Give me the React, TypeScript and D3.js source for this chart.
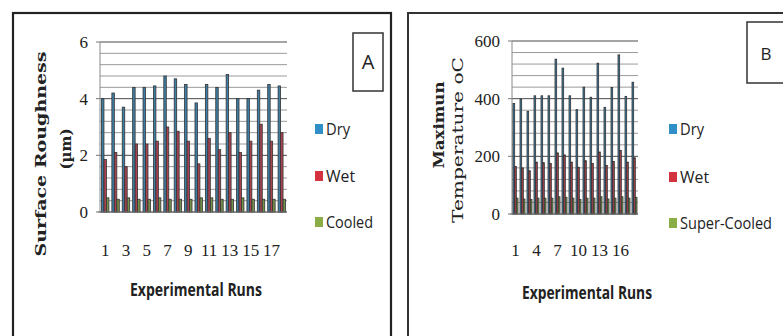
import React from "react";
import * as d3 from "d3";

// ---- data ----
const runs = [1, 2, 3, 4, 5, 6, 7, 8, 9, 10, 11, 12, 13, 14, 15, 16, 17, 18];

const roughDry = [4.0, 4.2, 3.7, 4.4, 4.4, 4.45, 4.8, 4.7, 4.5, 3.85, 4.5, 4.4, 4.85, 4.0, 4.0, 4.3, 4.5, 4.45];
const roughWet = [1.85, 2.1, 1.6, 2.4, 2.4, 2.5, 3.0, 2.85, 2.5, 1.7, 2.6, 2.2, 2.8, 2.1, 2.5, 3.1, 2.5, 2.8];
const roughCooled = [0.5, 0.45, 0.5, 0.45, 0.45, 0.5, 0.45, 0.45, 0.45, 0.5, 0.5, 0.45, 0.45, 0.5, 0.45, 0.45, 0.45, 0.45];
const roughTicks = [0, 2, 4, 6];
const roughXLabels = [1, 3, 5, 7, 9, 11, 13, 15, 17];

const tempDry = [383, 399, 356, 410, 410, 410, 537, 506, 410, 362, 440, 405, 523, 370, 439, 552, 408, 457];
const tempWet = [165, 160, 150, 180, 178, 175, 212, 205, 180, 162, 185, 175, 215, 168, 182, 220, 180, 195];
const tempSuper = [55, 52, 50, 55, 55, 55, 60, 58, 55, 50, 55, 55, 60, 52, 55, 60, 55, 58];
const tempTicks = [0, 200, 400, 600];
const tempXLabels = [1, 4, 7, 10, 13, 16];

const seriesColors = ["#2f8fc6", "#d2333f", "#8aae45"];
const barFills = ["#3f7ea4", "#a8434f", "#74924a"];

type PanelProps = {
  left: number; right: number; top: number; bottom: number;
  maxV: number; minorStep: number; ticks: number[]; xLabels: number[];
  series: number[][]; names: string[]; nameLens: number[];
  legendX: number; legendYs: number[];
};

function Panel(p: PanelProps) {
  const x = d3.scaleBand<number>().domain(runs).range([p.left, p.right]).padding(0);
  const inner = d3.scaleBand<number>().domain([0, 1, 2]).range([0, x.bandwidth()]).paddingInner(0).paddingOuter(0.6);
  const y = d3.scaleLinear().domain([0, p.maxV]).range([p.bottom, p.top]);
  const minor = d3.range(0, p.maxV + 1e-9, p.minorStep);
  const isMajor = (v: number) => p.ticks.some((t) => Math.abs(t - v) < 1e-6);
  return (
    <g>
      {minor.map((v, i) => (
        <line key={"g" + i} x1={p.left} x2={p.right} y1={y(v)} y2={y(v)}
          stroke={isMajor(v) ? "#4a4a4a" : "#9a9a9a"} strokeWidth={1} />
      ))}
      {p.ticks.map((t) => (
        <line key={"t" + t} x1={p.left - 4} x2={p.left} y1={y(t)} y2={y(t)} stroke="#777" />
      ))}
      <line x1={p.left} x2={p.left} y1={p.top} y2={p.bottom} stroke="#888" />
      {p.series.map((s, si) =>
        s.map((v, i) => (
          <rect key={si + "-" + i} x={(x(runs[i]) as number) + (inner(si) as number)} y={y(v)}
            width={inner.bandwidth()} height={p.bottom - y(v)}
            fill={barFills[si]} stroke="#333" strokeWidth={0.8} />
        ))
      )}
      <line x1={p.left - 2} x2={p.right} y1={p.bottom} y2={p.bottom} stroke="#777" />
      {p.ticks.map((t) => (
        <text key={"l" + t} x={p.left - 12} y={y(t)} dy="0.35em" textAnchor="end"
          fontFamily="Liberation Serif" fontSize={17} fill="#222">{t}</text>
      ))}
      {p.xLabels.map((c) => (
        <text key={"x" + c} x={(x(c) as number) + x.bandwidth() / 2} y={250} dy="0.35em" textAnchor="middle"
          fontFamily="Liberation Serif" fontSize={17} fill="#222">{c}</text>
      ))}
      {p.names.map((n, i) => (
        <g key={n}>
          <rect x={p.legendX} y={p.legendYs[i] - 5} width={8} height={10} fill={seriesColors[i]} />
          <text x={p.legendX + 11} y={p.legendYs[i]} dy="0.35em" fontFamily="Open Sans" fontSize={16}
            fill="#222" textLength={p.nameLens[i]} lengthAdjust="spacingAndGlyphs">{n}</text>
        </g>
      ))}
    </g>
  );
}

export default function App() {
  return (
    <svg width={783} height={336} style={{ position: "absolute", left: 0, top: 0, background: "#fff" }}>
      <rect x={0} y={0} width={783} height={336} fill="#fff" />
      {/* Panel A frame */}
      <rect x={13} y={13} width={378} height={340} fill="none" stroke="#222" strokeWidth={2.2} />
      {/* Panel B frame */}
      <rect x={408} y={13} width={390} height={340} fill="none" stroke="#333" strokeWidth={2} />

      <Panel left={100} right={287} top={42} bottom={212} maxV={6} minorStep={0.4}
        ticks={roughTicks} xLabels={roughXLabels} series={[roughDry, roughWet, roughCooled]}
        names={["Dry", "Wet", "Cooled"]} nameLens={[24, 29, 47]} legendX={315} legendYs={[129, 176, 222]} />
      <Panel left={512} right={638} top={41} bottom={214} maxV={600} minorStep={40}
        ticks={tempTicks} xLabels={tempXLabels} series={[tempDry, tempWet, tempSuper]}
        names={["Dry", "Wet", "Super-Cooled"]} nameLens={[24, 29, 92]} legendX={669} legendYs={[129, 177, 223]} />

      {/* Y titles */}
      <text transform="translate(46,154) rotate(-90)" textAnchor="middle" fontFamily="DejaVu Serif" fontWeight="bold"
        fontSize={15} fill="#222" textLength={205} lengthAdjust="spacingAndGlyphs">Surface Roughness</text>
      <text transform="translate(66,149) rotate(-90)" textAnchor="middle" fontFamily="DejaVu Serif" fontWeight="bold"
        fontSize={15} fill="#222" dy="0.35em">(µm)</text>
      <text transform="translate(439,125) rotate(-90)" textAnchor="middle" fontFamily="DejaVu Serif" fontWeight="bold"
        fontSize={15} fill="#222" dy="0.35em" textLength={87} lengthAdjust="spacingAndGlyphs">Maximun</text>
      <text transform="translate(458,140) rotate(-90)" textAnchor="middle" fontFamily="DejaVu Serif"
        fontSize={15} fill="#222" dy="0.35em" textLength={166} lengthAdjust="spacingAndGlyphs">Temperature oC</text>

      {/* X titles */}
      <text x={196} y={290} dy="0.35em" textAnchor="middle" fontFamily="Open Sans" fontWeight={700} fontSize={17}
        fill="#222" textLength={132} lengthAdjust="spacingAndGlyphs">Experimental Runs</text>
      <text x={587} y={293} dy="0.35em" textAnchor="middle" fontFamily="Open Sans" fontWeight={700} fontSize={17}
        fill="#222" textLength={130} lengthAdjust="spacingAndGlyphs">Experimental Runs</text>

      {/* Panel labels */}
      <rect x={353} y={33} width={30} height={58} fill="#fff" stroke="#333" strokeWidth={1.5} />
      <text x={368} y={62} dy="0.35em" textAnchor="middle" fontFamily="Open Sans" fontSize={20} fill="#222">A</text>
      <rect x={747} y={22} width={45} height={61} fill="#fff" stroke="#333" strokeWidth={1.5} />
      <text x={766} y={54} dy="0.35em" textAnchor="middle" fontFamily="Open Sans" fontSize={17} fill="#222">B</text>
    </svg>
  );
}
